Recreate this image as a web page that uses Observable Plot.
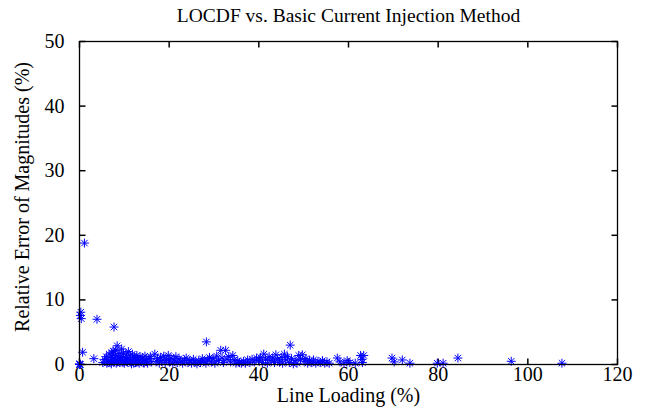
<!DOCTYPE html>
<html>
<head>
<meta charset="utf-8">
<script src="https://cdn.jsdelivr.net/npm/d3@7"></script>
<script src="https://cdn.jsdelivr.net/npm/@observablehq/plot@0.6"></script>
<style>
  html, body { margin: 0; padding: 0; background: #fff; }
  #chart svg, #chart svg text { font-family: "Liberation Serif", "Times New Roman", serif !important; }
</style>
</head>
<body>
<div id="chart"></div>
<script>
const title = "LOCDF vs. Basic Current Injection Method";
const xLabel = "Line Loading (%)";
const yLabel = "Relative Error of Magnitudes (%)";
const xTicks = [0, 20, 40, 60, 80, 100, 120];
const yTicks = [0, 10, 20, 30, 40, 50];

// Line loading (%) of each line
const loading = [
  0, 0.1, 0, 0.2, 0.3, 0.4, 0.2, 1.1, 0.7, 3.2, 3.9, 7.7, 8.4, 8.1, 7.2,
  5.2, 5.6, 6.0, 6.3, 6.6, 6.9, 7.1, 7.3, 7.5, 7.8, 8.0, 8.2, 8.6, 8.8, 9.0, 9.2, 9.4, 9.6, 9.8,
  10.0, 10.2, 10.4, 10.7, 10.9, 11.1, 11.3, 11.6, 11.8, 12.0, 12.3, 12.5, 12.8, 13.0, 13.3, 13.5,
  13.8, 14.0, 14.3, 14.6, 14.9, 15.2, 15.5, 15.8, 16.1,
  6.1, 6.8, 7.4, 8.5, 9.1, 9.7, 10.5, 11.4, 12.1, 12.9, 13.6, 14.4, 15.0,
  16.8, 17.1, 17.4, 17.8, 18.1, 18.4, 18.8, 19.1, 19.4, 19.8, 20.1, 20.4, 20.8, 21.1, 21.5, 21.8,
  22.2, 22.6, 23.0, 23.4, 23.8, 24.2, 24.6, 25.0, 25.4, 25.8, 26.2, 26.6, 27.0, 27.4, 27.8,
  28.3, 28.2, 28.6, 29.0, 29.4, 29.8, 30.2, 30.6, 31.0, 31.5, 31.8, 32.1, 32.6, 32.9, 33.3, 33.7,
  34.2, 34.5, 34.9, 35.3, 35.7, 36.1, 36.6, 37.0, 37.5, 38.0, 38.5, 39.0, 39.5, 40.0,
  40.4, 40.8, 41.1, 41.5, 41.9, 42.3, 42.7, 43.1, 43.5, 43.8, 44.2, 44.6, 45.0, 45.3, 45.7, 46.0,
  46.4, 46.8, 47.0, 47.3, 47.7, 48.1, 48.5, 48.9, 49.3, 49.7, 50.1, 50.5, 50.9, 51.3, 51.8, 52.2,
  52.7, 53.2, 53.7, 54.2, 54.7, 55.2, 55.7,
  57.5, 58.1, 59.0, 59.7, 60.3, 61.5, 62.7, 63.0, 63.4, 63.1, 69.7, 70.2, 72.0, 73.7,
  79.8, 81.1, 84.4, 96.3, 107.6
];
// Relative error of magnitudes (%) of each line
const relError = [
  0, 0, 0.1, 0, 8.1, 7.1, 7.6, 18.8, 1.9, 0.9, 7.0, 5.8, 2.9, 2.2, 1.8,
  0.3, 0.8, 1.2, 0.4, 1.6, 0.6, 0.1, 1.1, 2.1, 0.5, 1.4, 0.2, 0.9, 1.7, 0.3, 1.2, 2.4, 0.6, 1.8,
  0.2, 1.0, 1.5, 0.4, 2.0, 0.8, 1.3, 0.1, 1.6, 0.6, 1.1, 0.3, 1.4, 0.8, 0.2, 1.2,
  0.5, 1.0, 0.3, 1.3, 0.7, 0.2, 0.9, 1.2, 0.4,
  0.2, 0.3, 0.7, 0.4, 0.8, 0.3, 0.6, 0.5, 0.2, 0.4, 0.6, 0.2, 0.5,
  1.6, 0.5, 0.9, 0.2, 1.1, 0.6, 1.3, 0.3, 0.8, 1.4, 0.4, 1.0, 0.2, 0.7, 1.2, 0.3,
  0.9, 0.5, 0.2, 0.7, 1.0, 0.3, 0.6, 0.2, 0.8, 0.4, 0.1, 0.6, 0.3, 0.9, 0.5,
  3.5, 0.2, 0.7, 1.1, 0.4, 0.9, 0.2, 1.3, 0.6, 2.2, 1.0, 0.3, 2.2, 0.8, 1.2, 0.4,
  1.4, 0.7, 0.2, 0.6, 0.3, 0.2, 0.5, 0.2, 0.7, 0.3, 0.8, 0.4, 1.0, 0.6,
  1.1, 0.3, 1.6, 0.8, 0.2, 1.2, 0.6, 1.0, 0.3, 1.5, 0.8, 0.4, 1.1, 0.2, 1.6, 0.7,
  1.2, 0.3, 3.0, 0.9, 0.1, 0.6, 0.2, 1.4, 0.8, 1.5, 0.5, 0.9, 0.2, 0.6, 0.3, 0.7,
  0.2, 0.5, 0.3, 0.6, 0.2, 0.4, 0.2,
  1.0, 0.4, 0.2, 0.6, 0.3, 0.2, 1.4, 0.8, 1.4, 0.3, 1.0, 0.4, 0.7, 0.2,
  0.2, 0.2, 1.0, 0.5, 0.2
];

const points = loading.map((x, i) => ({x, y: relError[i]}));

const T = 6;
const tickUp = {draw(c) { c.moveTo(0, 0); c.lineTo(0, -T); }};
const tickDown = {draw(c) { c.moveTo(0, 0); c.lineTo(0, T); }};
const tickRight = {draw(c) { c.moveTo(0, 0); c.lineTo(T, 0); }};
const tickLeft = {draw(c) { c.moveTo(0, 0); c.lineTo(-T, 0); }};

const font = "Liberation Serif";

const chart = Plot.plot({
  width: 645,
  height: 409,
  marginLeft: 79,
  marginRight: 28,
  marginTop: 41,
  marginBottom: 45,
  style: {fontFamily: font, fontSize: "20px", background: "#fff", color: "#000"},
  x: {domain: [0, 120]},
  y: {domain: [0, 50]},
  marks: [
    Plot.axisX({ticks: xTicks, tickSize: 0, tickPadding: 2, label: null, fontSize: 20}),
    Plot.axisY({ticks: yTicks, tickSize: 0, tickPadding: 15, label: null, fontSize: 20}),
    Plot.dot(xTicks, {x: d => d, y: () => 0, symbol: tickUp, stroke: "#000", r: 1}),
    Plot.dot(xTicks, {x: d => d, y: () => 50, symbol: tickDown, stroke: "#000", r: 1}),
    Plot.dot(yTicks, {y: d => d, x: () => 0, symbol: tickRight, stroke: "#000", r: 1}),
    Plot.dot(yTicks, {y: d => d, x: () => 120, symbol: tickLeft, stroke: "#000", r: 1}),
    Plot.dot(points, {x: "x", y: "y", symbol: "plus", stroke: "#0000ff", fill: "none", r: 3, strokeWidth: 1}),
    Plot.dot(points, {x: "x", y: "y", symbol: "times", stroke: "#0000ff", fill: "none", r: 3, strokeWidth: 1}),
    Plot.frame({stroke: "#000", strokeWidth: 1.3}),
    Plot.text([title], {frameAnchor: "top", dy: -26, fontSize: 19.5, lineAnchor: "middle", textAnchor: "middle"}),
    Plot.text([xLabel], {frameAnchor: "bottom", dy: 31, fontSize: 20, lineAnchor: "middle", textAnchor: "middle"}),
    Plot.text([yLabel], {frameAnchor: "left", dx: -57, dy: -6, rotate: -90, fontSize: 20, lineAnchor: "middle", textAnchor: "middle"})
  ]
});
document.getElementById("chart").appendChild(chart);
</script>
</body>
</html>
